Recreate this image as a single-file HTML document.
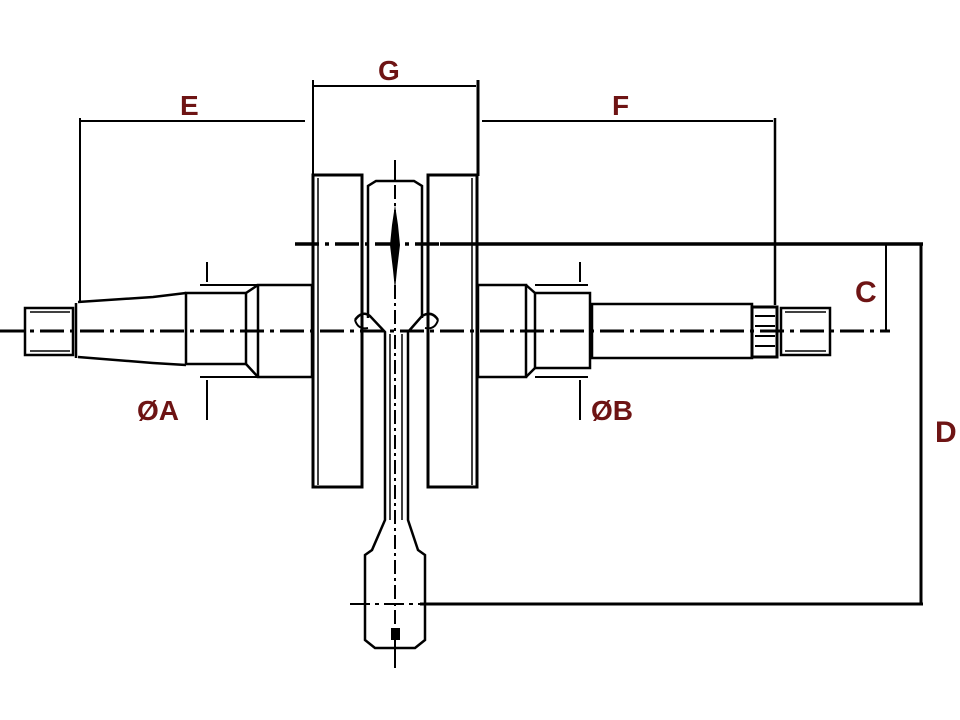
<!DOCTYPE html>
<html><head><meta charset="utf-8"><style>
html,body{margin:0;padding:0;background:#fff;width:960px;height:720px;overflow:hidden}
svg{display:block}
text{font-family:"Liberation Sans",sans-serif;font-weight:bold;fill:#6e1414}
</style></head><body>
<svg width="960" height="720" viewBox="0 0 960 720" xmlns="http://www.w3.org/2000/svg">
<g stroke="#000" fill="none" stroke-width="2.5">
<line x1="80" y1="121" x2="305" y2="121" stroke-width="2"/>
<line x1="80" y1="118" x2="80" y2="302" stroke-width="2"/>
<line x1="313" y1="86" x2="476" y2="86" stroke-width="2"/>
<line x1="313" y1="80" x2="313" y2="176" stroke-width="2"/>
<line x1="478" y1="80" x2="478" y2="176" stroke-width="3"/>
<line x1="482" y1="121" x2="773" y2="121" stroke-width="2"/>
<line x1="775" y1="118" x2="775" y2="305" stroke-width="2.5"/>
<line x1="886" y1="245" x2="886" y2="330" stroke-width="2"/>
<line x1="921" y1="244" x2="921" y2="605" stroke-width="3"/>
<line x1="440" y1="244" x2="923" y2="244" stroke-width="3.5"/>
<line x1="420" y1="604" x2="923" y2="604" stroke-width="3"/>
<line x1="0" y1="331" x2="890" y2="331" stroke-width="3" stroke-dasharray="24,6,4,6"/>
<line x1="295" y1="244" x2="440" y2="244" stroke-width="3.5" stroke-dasharray="24,6,4,6"/>
<line x1="350" y1="604" x2="420" y2="604" stroke-width="2" stroke-dasharray="20,5,4,5"/>
<line x1="395" y1="160" x2="395" y2="665" stroke-width="2" stroke-dasharray="14,4,3,4"/>
<rect x="25" y="308" width="48" height="47"/>
<line x1="30" y1="312" x2="70" y2="312" stroke-width="1.5"/>
<line x1="30" y1="351" x2="70" y2="351" stroke-width="1.5"/>
<line x1="76" y1="303" x2="76" y2="358"/>
<polyline points="78,302 153,297 186,293"/>
<polyline points="78,357 153,363 186,365"/>
<rect x="186" y="293" width="60" height="71"/>
<line x1="246" y1="293" x2="258" y2="285"/>
<line x1="246" y1="364" x2="258" y2="377"/>
<rect x="258" y="285" width="54" height="92"/>
<line x1="200" y1="285" x2="258" y2="285" stroke-width="2"/>
<line x1="200" y1="377" x2="258" y2="377" stroke-width="2"/>
<line x1="207" y1="262" x2="207" y2="282" stroke-width="2"/>
<line x1="207" y1="380" x2="207" y2="420" stroke-width="2"/>
<rect x="313" y="175" width="49" height="312" stroke-width="3"/>
<line x1="318" y1="178" x2="318" y2="485" stroke-width="1.5"/>
<rect x="428" y="175" width="49" height="312" stroke-width="3"/>
<line x1="472" y1="178" x2="472" y2="485" stroke-width="1.5"/>
<rect x="478" y="285" width="48" height="92"/>
<line x1="526" y1="285" x2="535" y2="293"/>
<line x1="526" y1="377" x2="535" y2="368"/>
<rect x="535" y="293" width="55" height="75"/>
<line x1="535" y1="285" x2="588" y2="285" stroke-width="2"/>
<line x1="535" y1="377" x2="588" y2="377" stroke-width="2"/>
<line x1="580" y1="262" x2="580" y2="282" stroke-width="2"/>
<line x1="580" y1="380" x2="580" y2="420" stroke-width="2"/>
<rect x="592" y="304" width="160" height="54"/>
<rect x="752" y="307" width="25" height="50" stroke-width="3"/>
<line x1="755" y1="316" x2="775" y2="316" stroke-width="2"/>
<line x1="755" y1="326" x2="775" y2="326" stroke-width="2"/>
<line x1="755" y1="336" x2="775" y2="336" stroke-width="2"/>
<line x1="755" y1="346" x2="775" y2="346" stroke-width="2"/>
<rect x="781" y="308" width="49" height="47"/>
<line x1="785" y1="312" x2="826" y2="312" stroke-width="1.5"/>
<line x1="785" y1="351" x2="826" y2="351" stroke-width="1.5"/>
<polyline points="368,318 368,186 376,181 414,181 422,186 422,318"/>
<line x1="395" y1="160" x2="395" y2="181" stroke-width="2"/>
<path d="M355,320 Q362,310 370,316 L385,332 L385,520 L372,550 L365,555 L365,640 L375,648 L415,648 L425,640 L425,555 L418,550 L408,520 L408,332 L422,316 Q432,310 438,320"/>
<path d="M390,334 L390,520 M402,334 L402,520" stroke-width="1.5"/>
<path d="M355,320 Q358,330 368,328 M438,320 Q435,330 425,328" stroke-width="2"/>
<path d="M395,205 L398,225 L400,245 L397,270 L395,290 L393,270 L390,245 L392,225 Z" fill="#000" stroke="none"/>
<rect x="391" y="628" width="9" height="12" fill="#000" stroke="none"/>
<line x1="395" y1="648" x2="395" y2="668" stroke-width="2"/>
</g>
<text x="180" y="115" font-size="28">E</text>
<text x="378" y="80" font-size="28">G</text>
<text x="612" y="115" font-size="28">F</text>
<text x="855" y="302" font-size="30">C</text>
<text x="935" y="442" font-size="30">D</text>
<text x="137" y="420" font-size="28">ØA</text>
<text x="591" y="420" font-size="28">ØB</text>
</svg>
</body></html>
